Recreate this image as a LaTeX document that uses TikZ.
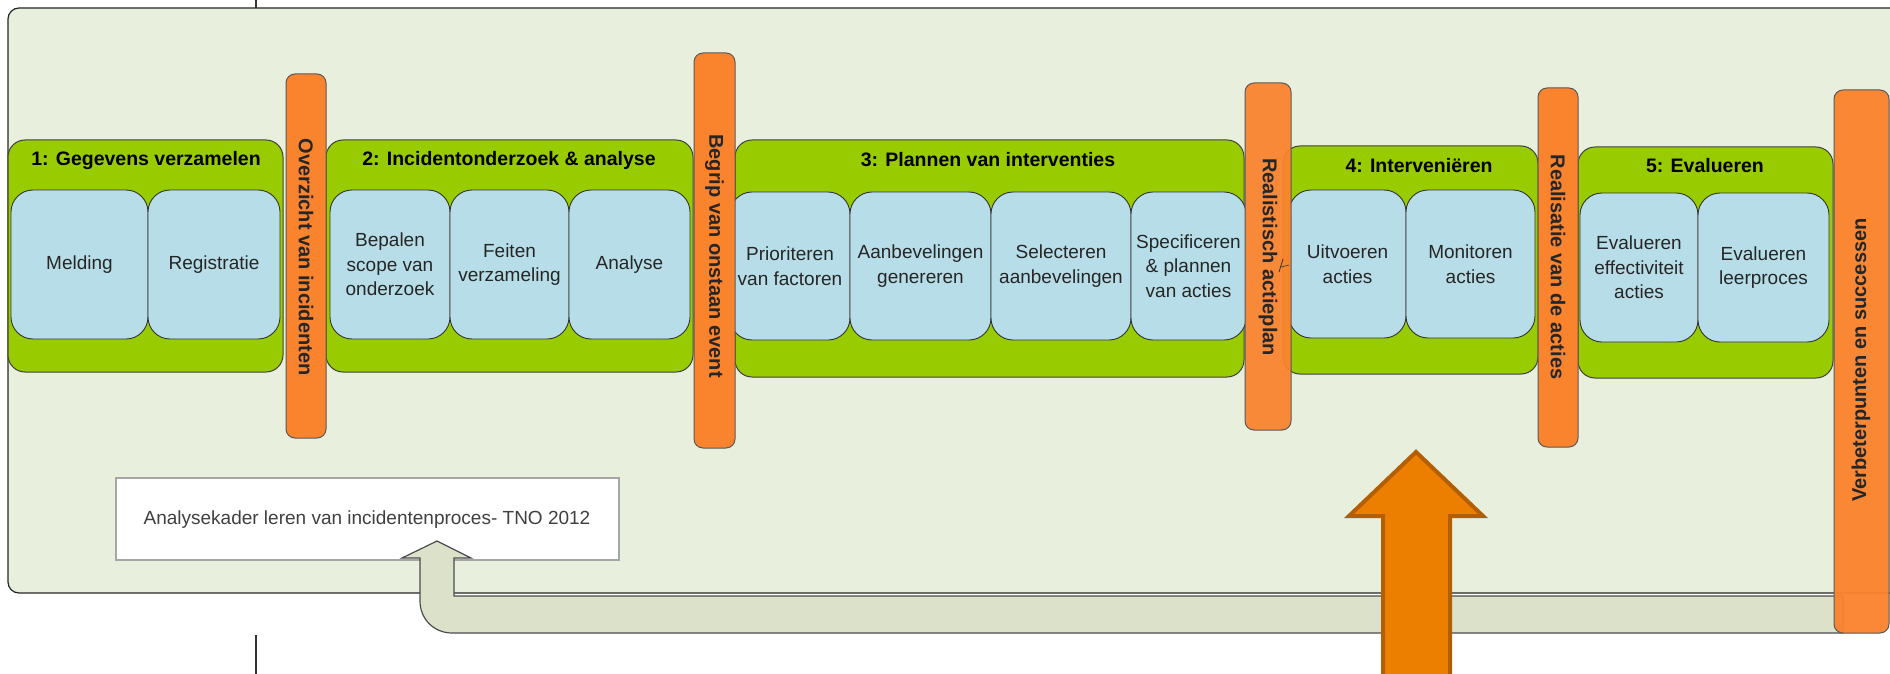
\documentclass[tikz,border=0pt]{standalone}
\usepackage{fontspec}
\setmainfont{Liberation Sans}
\definecolor{bgc}{HTML}{E8EFDD}
\definecolor{stagec}{HTML}{99CC00}
\definecolor{subc}{HTML}{B7DEE8}
\definecolor{barc}{HTML}{FA832E}
\definecolor{bandc}{HTML}{DCE2C9}
\definecolor{bigc}{HTML}{ED7F00}
\definecolor{bigd}{HTML}{B35E00}
\begin{document}
\begin{tikzpicture}[x=1pt,y=-1pt,
  bgbox/.style={draw=black!85, line width=1.2pt, fill=bgc, rounded corners=11pt},
  stage/.style={draw=black!75, line width=1pt, fill=stagec, rounded corners=17pt, inner sep=0pt},
  sub/.style={draw=black!80, line width=0.9pt, fill=subc, rounded corners=22pt, inner sep=0pt, align=center, text=black!85, font=\fontsize{19}{24.5}\selectfont},
  bar/.style={draw=black!65, line width=1pt, fill=barc, rounded corners=9pt, inner sep=0pt},
  bartext/.style={font=\bfseries\fontsize{20}{24}\selectfont, text=black!85, inner sep=0pt},
  titletext/.style={font=\bfseries\fontsize{19.5}{23}\selectfont, inner sep=0pt, anchor=base},
  notebox/.style={draw=black!35, line width=1.2pt, fill=white, inner sep=0pt},
  band/.style={draw=black!70, line width=1.2pt, fill=bandc, line join=miter},
  bigarrow/.style={draw=bigd, line width=4pt, fill=bigc, line join=miter}]
\useasboundingbox (0,0) rectangle (1890,674);
\clip (0,0) rectangle (1890,674);

% background
\draw[bgbox] (8,8) rectangle (1930,593);
\draw[black!80, line width=1.5pt] (256,0) -- (256,8);
\draw[black!80, line width=1.5pt] (256,635) -- (256,674);

% note box
\node[notebox, minimum width=503pt, minimum height=82pt] (note) at (367.5,519) {};
\node[font=\fontsize{19}{23}\selectfont, text=black!75, inner sep=0pt, anchor=base] (notet) at (367,524) {Analysekader leren van incidentenproces- TNO 2012};

% feedback band arrow
\draw[band] (437,541) -- (471,558) -- (454,558) -- (454,596) -- (1843,596) -- (1843,633) -- (452,633)
  .. controls (434,633) and (420,619) .. (420,601) -- (420,558) -- (402,558) -- cycle;

% stages
\node[stage, minimum width=275pt, minimum height=232pt] (s1) at (145.5,256) {};
\node[stage, minimum width=367pt, minimum height=232pt] (s2) at (509.5,256) {};
\node[stage, minimum width=509pt, minimum height=237pt] (s3) at (989.5,258.5) {};
\node[stage, minimum width=255pt, minimum height=228pt] (s4) at (1410.5,260) {};
\node[stage, minimum width=255pt, minimum height=231pt] (s5) at (1705.5,262.5) {};

\node[titletext] (t1) at (146,165) {1: Gegevens verzamelen};
\node[titletext] (t2) at (509,165) {2: Incidentonderzoek \& analyse};
\node[titletext] (t3) at (988,166) {3: Plannen van interventies};
\node[titletext] (t4) at (1419,172) {4: Interveniëren};
\node[titletext] (t5) at (1705,172) {5: Evalueren};

% sub steps
\node[sub, minimum width=137pt, minimum height=149pt] (a1) at (79.5,264.5) {Melding};
\node[sub, minimum width=132pt, minimum height=149pt] (a2) at (214,264.5) {Registratie};
\node[sub, minimum width=120pt, minimum height=149pt] (b1) at (390,264.5) {Bepalen\\scope van\\onderzoek};
\node[sub, minimum width=119pt, minimum height=149pt] (b2) at (509.5,264.5) {Feiten\\verzameling};
\node[sub, minimum width=121pt, minimum height=149pt] (b3) at (629.5,264.5) {Analyse};
\node[sub, minimum width=120pt, minimum height=148pt] (c1) at (790,266) {Prioriteren\\van factoren};
\node[sub, minimum width=141pt, minimum height=148pt] (c2) at (920.5,266) {Aanbevelingen\\genereren};
\node[sub, minimum width=140pt, minimum height=148pt] (c3) at (1061,266) {Selecteren\\aanbevelingen};
\node[sub, minimum width=115pt, minimum height=148pt] (c4) at (1188.5,266) {Specificeren\\\& plannen\\van acties};
\node[sub, minimum width=117pt, minimum height=148pt] (d1) at (1347.5,264) {Uitvoeren\\acties};
\node[sub, minimum width=129pt, minimum height=148pt] (d2) at (1470.5,264) {Monitoren\\acties};
\node[sub, minimum width=118pt, minimum height=149pt] (e1) at (1639,267.5) {Evalueren\\effectiviteit\\acties};
\node[sub, minimum width=131pt, minimum height=149pt] (e2) at (1763.5,267.5) {Evalueren\\leerproces};

% bars
\node[bar, minimum width=40pt, minimum height=364pt] (r1) at (306,256) {};
\node[bartext, rotate=-90] (r1t) at (306,257) {Overzicht van incidenten};
\node[bar, minimum width=41pt, minimum height=395pt] (r2) at (714.5,250.5) {};
\node[bartext, rotate=-90] (r2t) at (714.5,256) {Begrip van onstaan event};
\node[bar, fill opacity=0.94, minimum width=46pt, minimum height=347pt] (r3) at (1268,256.5) {};
\node[bartext, rotate=-90] (r3t) at (1268,257) {Realistisch actieplan};
\draw[black!80, line width=0.8pt] (1279,272) -- (1283,259);
\draw[black!80, line width=0.6pt] (1281,267) -- (1289,265);
\node[bar, minimum width=40pt, minimum height=359pt] (r4) at (1558,267.5) {};
\node[bartext, rotate=-90] (r4t) at (1558,267) {Realisatie van de acties};
\node[bar, fill opacity=0.96, minimum width=55pt, minimum height=543pt] (r5) at (1861.5,361.5) {};
\node[bartext, rotate=90] (r5t) at (1861,360) {Verbeterpunten en successen};

% big arrow
\draw[bigarrow] (1416,452) -- (1483,516) -- (1450,516) -- (1450,690) -- (1383,690) -- (1383,516) -- (1349,516) -- cycle;
\end{tikzpicture}
\end{document}
